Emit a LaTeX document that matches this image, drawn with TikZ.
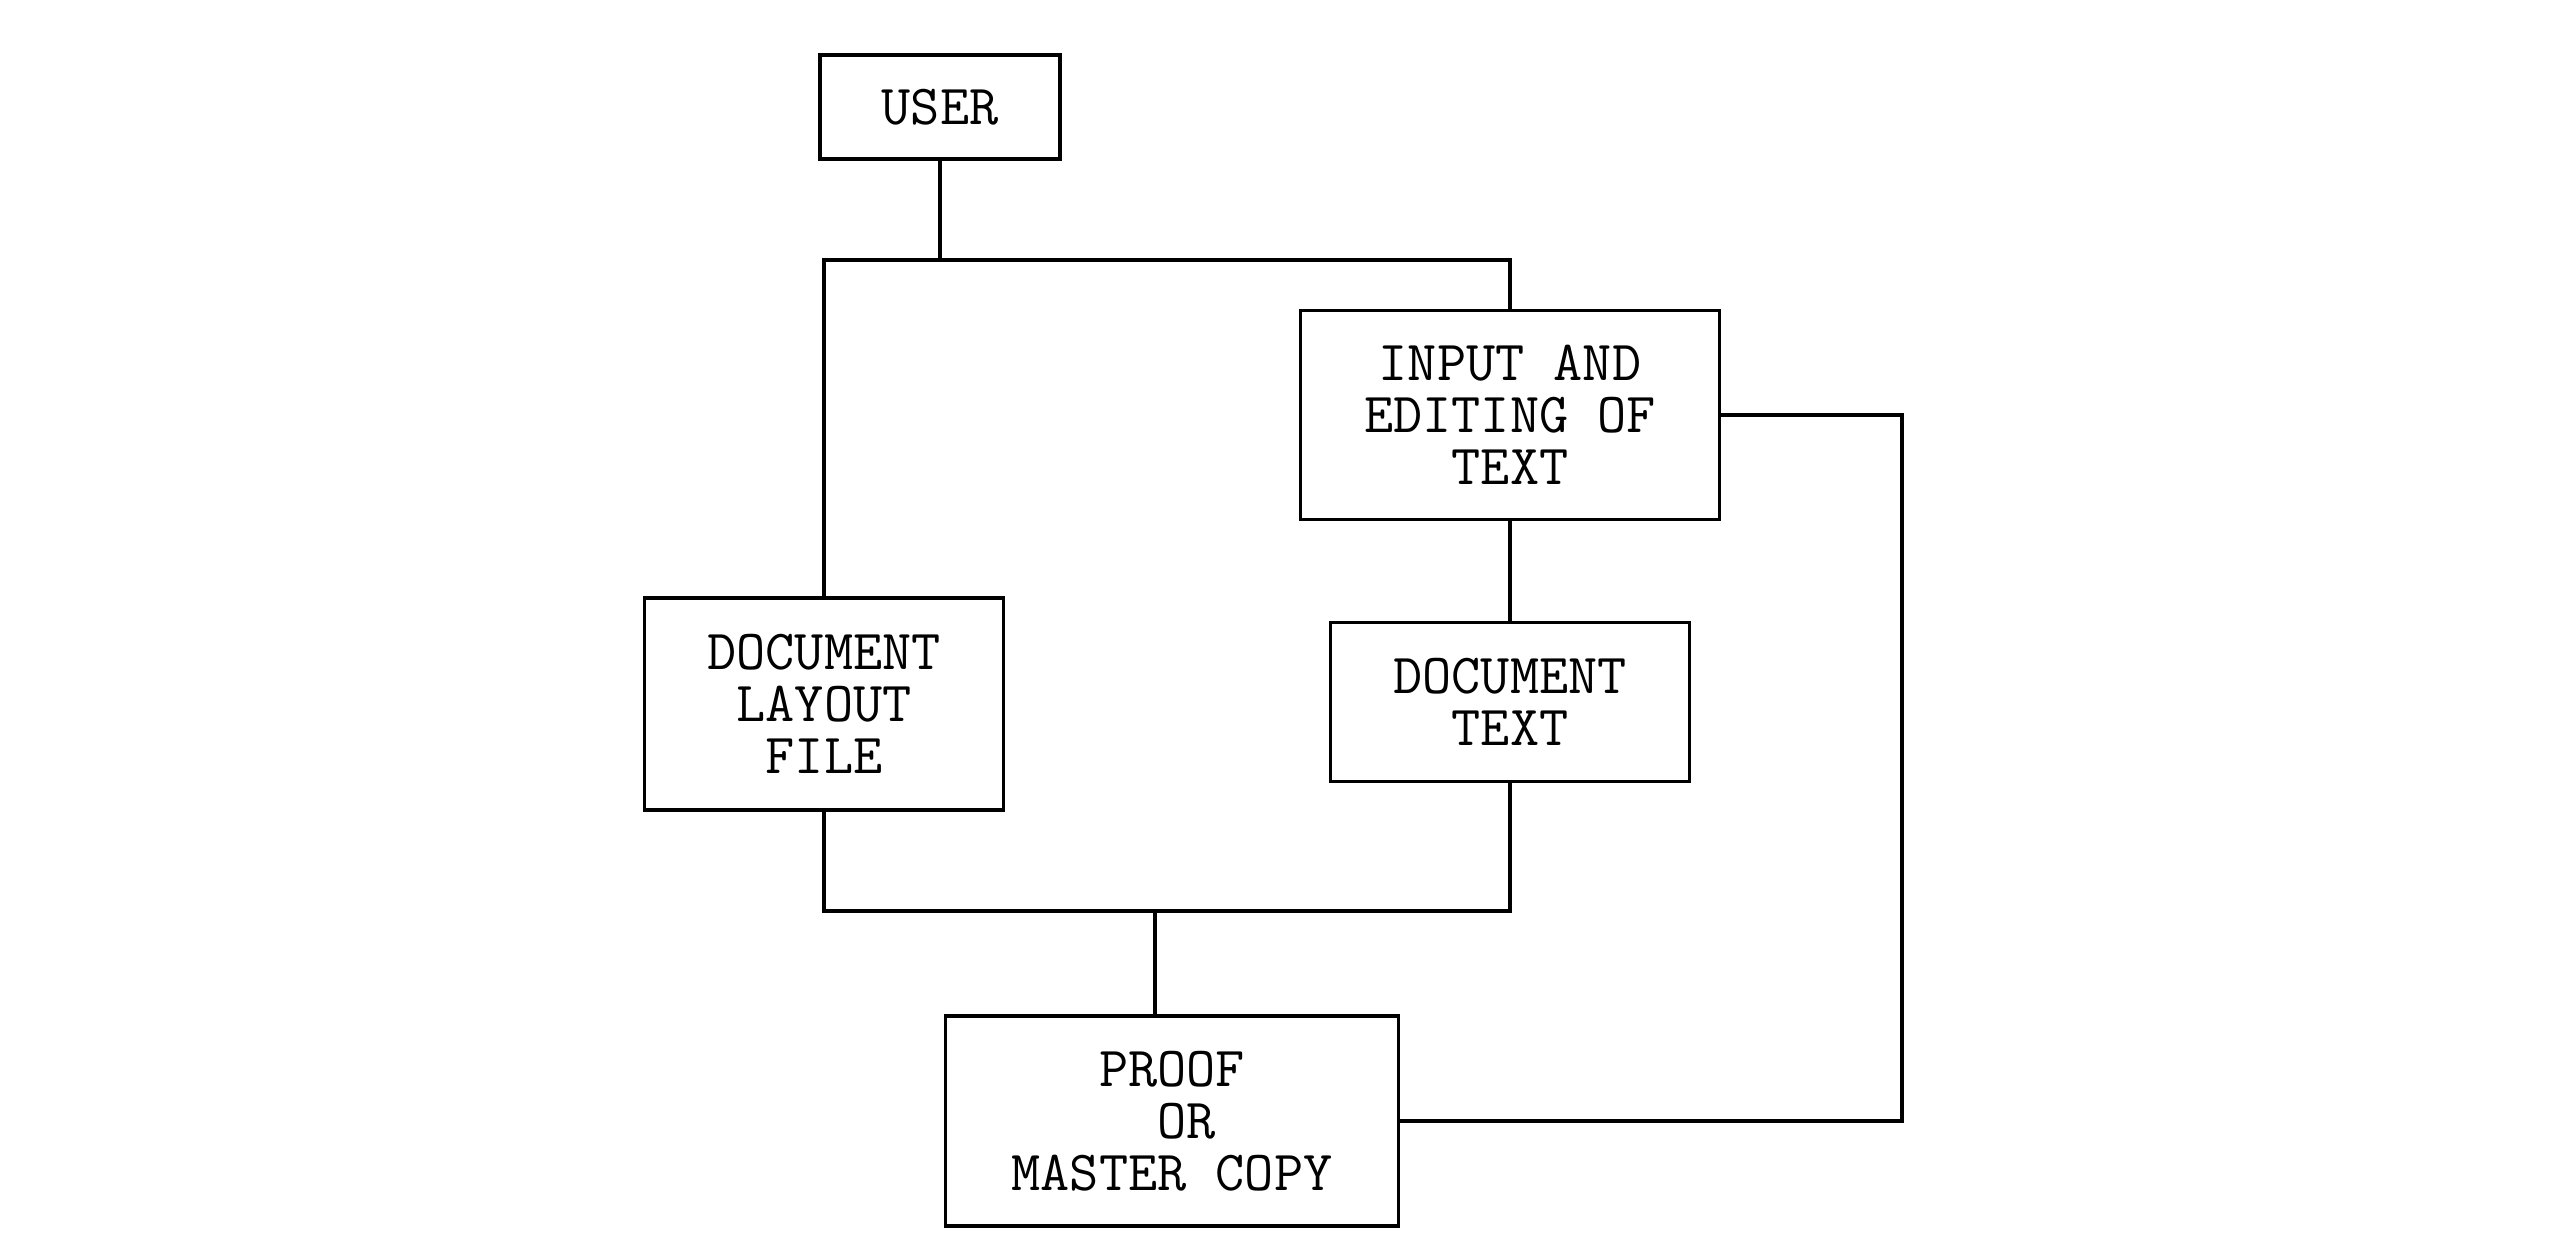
\documentclass[tikz,border=0pt]{standalone}
\usetikzlibrary{calc}

\begin{document}
\begin{tikzpicture}[x=0.01cm,y=-0.01cm,
        box/.style={draw, line width=0.9pt, align=center, inner sep=0pt,
          font=\ttfamily\fontsize{16.1}{14.8}\selectfont},
        link/.style={line width=0.9pt}]
        \useasboundingbox (0,0) rectangle (2550,1260);

        % boxes
        \node[box, minimum width=2.40cm, minimum height=1.04cm] (user) at (940,107) {USER};
        \node[box, minimum width=4.19cm, minimum height=2.09cm] (input) at (1510,415) {INPUT AND\\EDITING OF\\TEXT};
        \node[box, minimum width=3.59cm, minimum height=2.12cm] (layout) at (824,704) {DOCUMENT\\LAYOUT\\FILE};
        \node[box, minimum width=3.59cm, minimum height=1.59cm] (doctext) at (1510,702) {DOCUMENT\\TEXT};
        \node[box, minimum width=4.52cm, minimum height=2.10cm] (proof) at (1172,1121) {PROOF\\\hphantom{O}OR\\MASTER COPY};

        % joints
        \coordinate (topbus) at (940,260);
        \coordinate (lowbus) at (1155,911);
        \coordinate (loopright) at (1902,700);

        % connectors
        \draw[link] (user.south) -- (topbus);
        \draw[link] (layout.north) |- (topbus) -| (input.north);
        \draw[link] (input.south) -- (doctext.north);
        \draw[link] (layout.south) |- (lowbus) -| (doctext.south);
        \draw[link] (lowbus) -- (lowbus |- proof.north);
        \draw[link] (input.east) -| (loopright) |- (proof.east);
      \end{tikzpicture}
\end{document}
